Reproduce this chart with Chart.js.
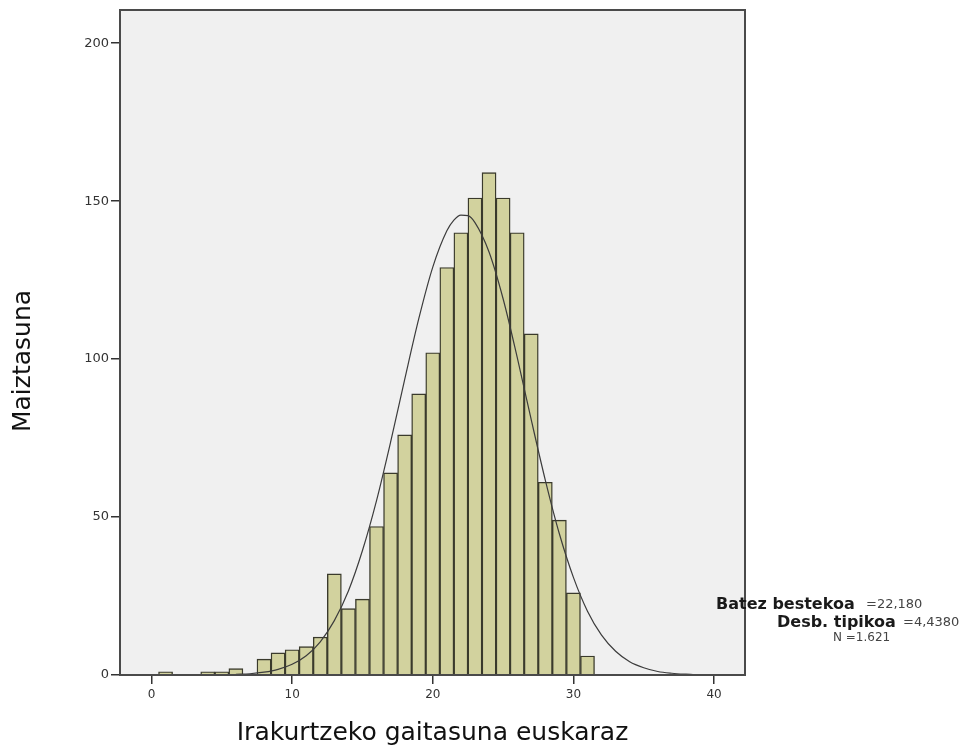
<!DOCTYPE html>
<html>
<head>
<meta charset="utf-8">
<script src="https://cdn.jsdelivr.net/npm/chart.js@4"></script>
<style>
  html, body { margin: 0; padding: 0; background: #ffffff; }
  #wrap { width: 970px; height: 749px; }
</style>
</head>
<body>
<div id="wrap"><canvas id="c" width="970" height="749"></canvas></div>
<script>
// Histogram bins (centre of each bin) and frequencies
const binCenters = [1,2,3,4,5,6,7,8,9,10,11,12,13,14,15,16,17,18,19,20,21,22,23,24,25,26,27,28,29,30,31];
const frequencies = [1,0,0,1,1,2,0,5,7,8,9,12,32,21,24,47,64,76,89,102,129,140,151,159,151,140,108,61,49,26,6];

// Fitted normal curve
const curveX = [6,7,8,9,10,11,12,13,14,15,16,17,18,19,20,21,21.5,22,22.5,23,24,25,26,27,28,29,30,31,32,33,34,35,36,37,38,38.5];
const curveY = [0.2,0.4,0.9,1.8,3.4,6.1,10.5,17.2,26.6,39.4,55.2,73.7,93.5,112.7,129.1,140.6,144.0,145.6,145.4,143.2,133.9,119.1,100.6,80.8,61.7,44.7,30.9,20.2,12.6,7.5,4.2,2.3,1.1,0.55,0.25,0.15];

const xTicks = [0,10,20,30,40];
const yTicks = [0,50,100,150,200];

const xTitle = "Irakurtzeko gaitasuna euskaraz";
const yTitle = "Maiztasuna";
const statLabels = ["Batez bestekoa", "Desb. tipikoa", "N"];
const statValues = ["=22,180", "=4,4380", "=1.621"];

const barData = binCenters.map((x, i) => ({ x: x, y: frequencies[i] }));
const curveData = curveX.map((x, i) => ({ x: x, y: curveY[i] }));

const frameAndBg = {
  id: 'frameAndBg',
  beforeDatasetsDraw(chart) {
    const { ctx, chartArea: a } = chart;
    ctx.save();
    ctx.fillStyle = '#f0f0f0';
    ctx.fillRect(a.left, a.top, a.right - a.left, a.bottom - a.top);
    ctx.restore();
  },
  afterDraw(chart) {
    const { ctx, chartArea: a } = chart;
    ctx.save();
    ctx.strokeStyle = '#4a4a4a';
    ctx.lineWidth = 2;
    ctx.strokeRect(a.left, a.top, a.right - a.left, a.bottom - a.top);
    // y axis title
    ctx.save();
    ctx.translate(23, 361);
    ctx.rotate(-Math.PI / 2);
    ctx.textAlign = 'center';
    ctx.textBaseline = 'middle';
    ctx.fillStyle = '#111';
    ctx.font = '25px "DejaVu Sans"';
    ctx.fillText(yTitle, 0, 0);
    ctx.restore();
    // stats box text
    ctx.fillStyle = '#1a1a1a';
    ctx.textBaseline = 'alphabetic';
    ctx.textAlign = 'left';
    ctx.font = 'bold 16px "DejaVu Sans"';
    ctx.fillText(statLabels[0], 716, 609);
    ctx.fillText(statLabels[1], 777, 627);
    ctx.fillStyle = '#444';
    ctx.font = '13px "DejaVu Sans"';
    ctx.fillText(statValues[0], 866, 608);
    ctx.fillText(statValues[1], 903, 626);
    ctx.font = '12px "DejaVu Sans"';
    ctx.fillText(statLabels[2] + ' ' + statValues[2], 833, 641);
    ctx.restore();
  }
};

new Chart(document.getElementById('c'), {
  type: 'bar',
  data: {
    datasets: [
      {
        type: 'line',
        data: curveData,
        borderColor: '#3c3c3c',
        borderWidth: 1.2,
        pointRadius: 0,
        fill: false,
        cubicInterpolationMode: 'monotone',
        order: 0
      },
      {
        type: 'bar',
        data: barData,
        backgroundColor: '#d2d29e',
        borderColor: '#3a3a2c',
        borderWidth: 1.4,
        barPercentage: 1,
        categoryPercentage: 1,
        grouped: false,
        order: 1
      }
    ]
  },
  options: {
    responsive: false,
    animation: false,
    devicePixelRatio: 1,
    layout: { padding: { left: 0, right: 225, top: 10, bottom: 0 } },
    plugins: { legend: { display: false }, tooltip: { enabled: false }, title: { display: false } },
    scales: {
      x: {
        type: 'linear',
        min: -2.24,
        max: 42.2,
        offset: false,
        afterBuildTicks(s) { s.ticks = xTicks.map(v => ({ value: v })); },
        afterFit(s) { s.height = 74; },
        grid: { display: true, drawOnChartArea: false, drawTicks: true, tickLength: 9, tickColor: '#333', offset: false, lineWidth: 1.5 },
        border: { display: false },
        ticks: { color: '#333', font: { family: 'DejaVu Sans', size: 12 }, padding: 4, maxRotation: 0, autoSkip: false },
        title: { display: true, text: xTitle, color: '#111', font: { family: 'DejaVu Sans', size: 25 }, padding: { top: 0, bottom: 1 } }
      },
      y: {
        type: 'linear',
        min: 0,
        max: 210.5,
        afterBuildTicks(s) { s.ticks = yTicks.map(v => ({ value: v })); },
        afterFit(s) { s.width = 120; },
        grid: { display: true, drawOnChartArea: false, drawTicks: true, tickLength: 9, tickColor: '#333', lineWidth: 1.5 },
        border: { display: false },
        ticks: { color: '#333', font: { family: 'DejaVu Sans', size: 13 }, padding: 2 },
        title: { display: false, text: yTitle }
      }
    }
  },
  plugins: [frameAndBg]
});
</script>
</body>
</html>
